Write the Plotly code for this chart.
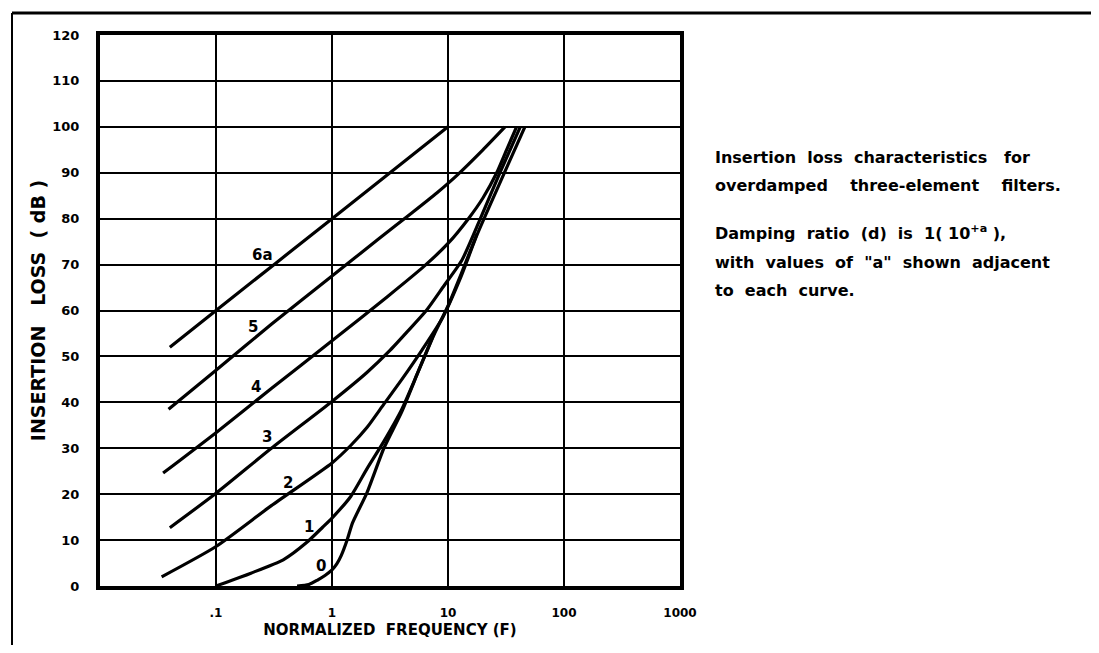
import math
import plotly.graph_objects as go

# ---- data (F = normalized frequency, L = insertion loss dB)
curve_6a_F = [0.04, 0.1, 1, 10]
curve_6a_L = [52, 60, 80, 100]

curve_5_F = [0.039, 0.1, 0.3, 1, 2.5, 4.9, 8, 12, 20, 31]
curve_5_L = [38.5, 47, 57, 67.5, 75.5, 81.3, 85.6, 89.5, 95, 100]

curve_4_F = [0.035, 0.1, 0.3, 1, 3, 6.2, 10, 15, 20, 26.3, 32, 39]
curve_4_L = [24.6, 33.4, 43, 53.4, 63, 69.6, 74.6, 80, 84.5, 90, 95, 100]

curve_3_F = [0.04, 0.1, 0.3, 1, 2, 3.16, 4.5, 6.5, 9, 13.2, 19, 28, 42]
curve_3_L = [12.7, 20.2, 30, 40.2, 46.5, 51.3, 55.5, 60, 65, 71, 80, 90, 100]

curve_2_F = [0.034, 0.1, 0.3, 1, 1.45, 2, 2.8, 4, 6, 9, 13, 17.8, 30, 46]
curve_2_L = [2, 8.6, 17.5, 26.8, 30.6, 34.5, 39.6, 45, 51.5, 58.5, 67.5, 76.5, 89.5, 100]

curve_1_F = [0.1, 0.2, 0.38, 0.6, 0.83, 1, 1.45, 2, 2.8, 4, 5.5, 7.5, 10, 13, 17.8]
curve_1_L = [0, 2.8, 5.7, 9.4, 12.8, 14.8, 19.5, 25.5, 31.5, 38.5, 46.5, 54.5, 61, 68, 76.7]

curve_0_F = [0.5, 0.63, 0.75, 0.87, 1, 1.1, 1.2, 1.35, 1.5, 2, 2.8, 4, 5.6, 7.6]
curve_0_L = [0, 0.3, 1.3, 2.3, 3.5, 4.8, 6.6, 10, 13.7, 20.3, 30, 38, 47, 55]

curve_names = ["6a", "5", "4", "3", "2", "1", "0"]
label_F = [0.25, 0.21, 0.22, 0.275, 0.415, 0.63, 0.81]
label_L = [72, 56.4, 43.4, 32.5, 22.4, 12.9, 4.4]

x_tickvals = [0.1, 1, 10, 100, 1000]
x_ticktext = [".1", "1", "10", "100", "1000"]
y_tickvals = [0, 10, 20, 30, 40, 50, 60, 70, 80, 90, 100, 110, 120]

note_lines = [
    "Insertion  loss  characteristics   for",
    "overdamped    three-element    filters.",
    "Damping  ratio  (d)  is  1( 10<sup>+a</sup> ),",
    "with  values  of  \"a\"  shown  adjacent",
    "to  each  curve.",
]
note_y_px = [157, 185, 232, 262, 290]

FONT = "DejaVu Sans"

fig = go.Figure()
curves = [
    (curve_6a_F, curve_6a_L), (curve_5_F, curve_5_L), (curve_4_F, curve_4_L),
    (curve_3_F, curve_3_L), (curve_2_F, curve_2_L), (curve_1_F, curve_1_L),
    (curve_0_F, curve_0_L),
]
for name, (fx, fy) in zip(curve_names, curves):
    fig.add_trace(go.Scatter(x=fx, y=fy, mode="lines", name=name,
                             line=dict(color="black", width=3.2, shape="spline", smoothing=0.6),
                             showlegend=False, hoverinfo="skip"))

for name, fx, fy in zip(curve_names, label_F, label_L):
    fig.add_annotation(x=math.log10(fx), y=fy, xref="x", yref="y", text=name,
                       showarrow=False,
                       font=dict(family=FONT, size=15, color="black", weight="bold"))

# page geometry (the page body adds an 8 px offset)
OFF = 8
W, H = 1099 - 2 * OFF, 653 - 2 * OFF
PL, PR, PT, PB = 100, 680, 35, 586          # plot area in page pixels
L_M = PL - OFF
T_M = PT - OFF
plot_w = PR - PL
plot_h = PB - PT
R_M = W - L_M - plot_w
B_M = H - T_M - plot_h


def px_x(xp):
    return (xp - PL) / plot_w


def px_y(yp):
    return (PB - yp) / plot_h


for txt, ypx in zip(note_lines, note_y_px):
    fig.add_annotation(x=px_x(713), y=px_y(ypx),
                       xref="paper", yref="paper", xanchor="left", yanchor="middle",
                       text=txt, showarrow=False,
                       font=dict(family=FONT, size=16, color="black", weight="bold"))

# outer frame lines (top and left)
fig.add_shape(type="line", xref="paper", yref="paper",
              x0=px_x(12), x1=px_x(1110), y0=px_y(13), y1=px_y(13),
              line=dict(color="black", width=3))
fig.add_shape(type="line", xref="paper", yref="paper",
              x0=px_x(12), x1=px_x(12), y0=px_y(13), y1=px_y(670),
              line=dict(color="black", width=2))

fig.update_xaxes(type="log", range=[-2, 3],
                 tickvals=x_tickvals, ticktext=x_ticktext,
                 showgrid=True, gridcolor="black", gridwidth=2,
                 showline=True, linecolor="black", linewidth=4, mirror=True,
                 ticks="", ticklabelstandoff=13, zeroline=False,
                 tickfont=dict(family=FONT, size=12, color="black", weight="bold"),
                 title=dict(text="NORMALIZED  FREQUENCY (F)", standoff=6,
                            font=dict(family=FONT, size=15, color="black", weight="bold")))
fig.update_yaxes(range=[0, 120], tickvals=y_tickvals,
                 showgrid=True, gridcolor="black", gridwidth=2,
                 showline=True, linecolor="black", linewidth=4, mirror=True,
                 ticks="", ticklabelstandoff=14, zeroline=False,
                 tickfont=dict(family=FONT, size=13, color="black", weight="bold"),
                 title=dict(text="INSERTION   LOSS  ( dB )", standoff=3,
                            font=dict(family=FONT, size=19, color="black", weight="bold")))

fig.update_layout(width=W, height=H,
                  margin=dict(l=L_M, r=R_M, t=T_M, b=B_M, autoexpand=False),
                  paper_bgcolor="white", plot_bgcolor="white",
                  showlegend=False)

fig.write_html("out.html")
